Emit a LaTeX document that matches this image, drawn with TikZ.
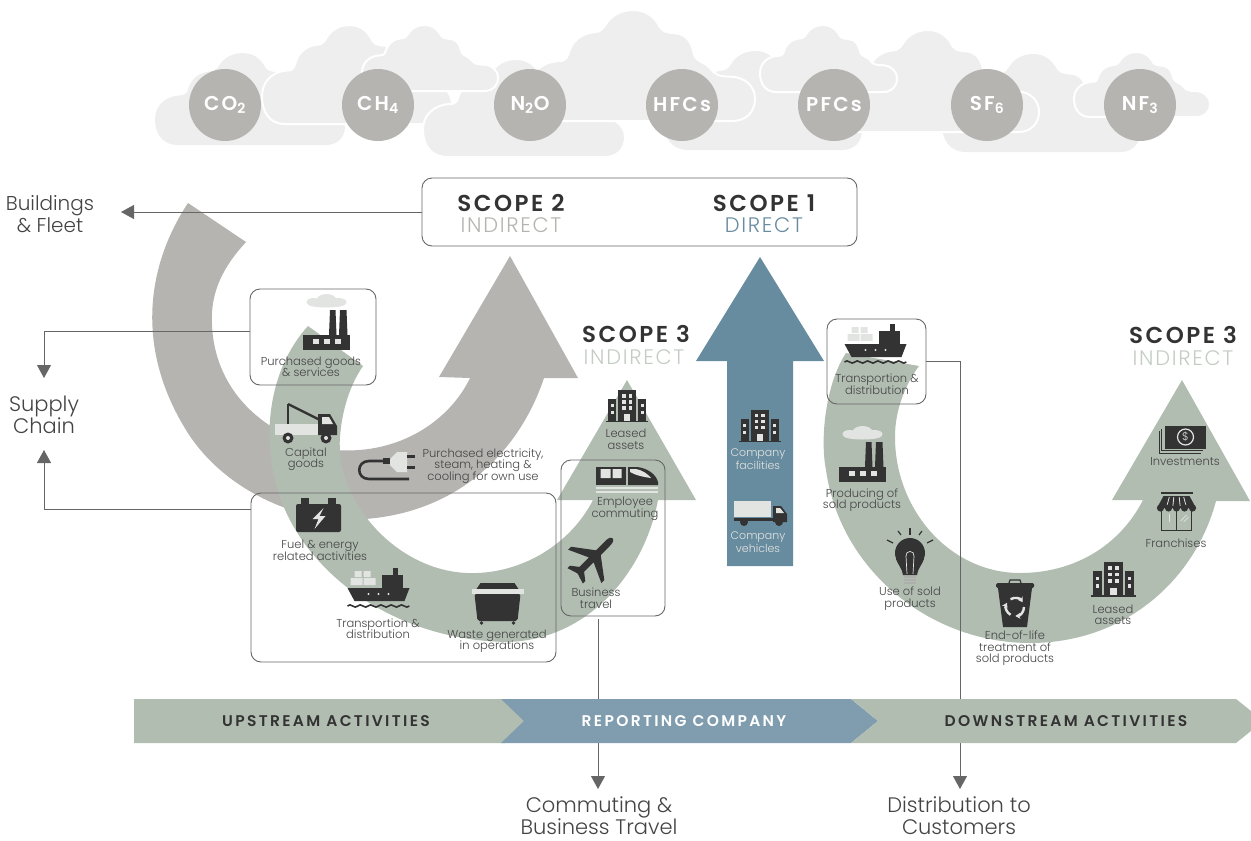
\documentclass[tikz,border=0pt]{standalone}
\usepackage{fontspec}
\usepackage{tikz}
\usetikzlibrary{arrows.meta}
\setmainfont{Poppins}[UprightFont=* Light,BoldFont=* SemiBold]
\newfontfamily\headfont{Poppins SemiBold}[LetterSpace=11]
\newfontfamily\subfont{Poppins Light}[LetterSpace=8]
\newfontfamily\bandfont{Poppins SemiBold}[LetterSpace=15]

\definecolor{cloudgrey}{HTML}{EEEEEE}
\definecolor{scopegrey}{HTML}{B5B4B1}
\definecolor{sagegreen}{HTML}{B2BDB2}
\definecolor{palegreen}{HTML}{C4CCC4}
\definecolor{slateblue}{HTML}{688C9F}
\definecolor{bandblue}{HTML}{7F9DAE}
\definecolor{icondark}{HTML}{333333}
\definecolor{iconlight}{HTML}{E2E4E2}
\definecolor{wirecol}{HTML}{666666}
\definecolor{labelcol}{HTML}{444444}

% keeps the line distance of the labels exact
\newcommand{\tightlines}{\lineskiplimit=-20pt\relax}

\tikzset{
    gascircle/.style={circle, fill=scopegrey, text=white, minimum size=72pt, inner sep=0pt,
        font=\fontsize{20}{20}\selectfont\headfont},
    framebox/.style={draw=wirecol, line width=0.9pt, rounded corners=10pt, inner sep=0pt},
    wire/.style={draw=wirecol, line width=0.9pt},
    wiretip/.style={wire, -{Triangle[length=13pt,width=14pt,fill=wirecol]}},
    smalllabel/.style={align=center, text=labelcol, inner sep=0pt,
        font=\fontsize{11.5}{11.5}\selectfont\tightlines},
    whitelabel/.style={smalllabel, text=iconlight, font=\fontsize{11}{13}\selectfont\tightlines},
    biglabel/.style={align=center, text=labelcol, inner sep=0pt,
        font=\fontsize{21}{22}\selectfont\tightlines},
    scopehead/.style={text=icondark, inner sep=0pt, font=\fontsize{23}{23}\headfont\selectfont},
    scopesub/.style={inner sep=0pt, font=\fontsize{21}{21}\subfont\selectfont},
    bandtext/.style={inner sep=0pt, font=\fontsize{15.5}{16}\bandfont\selectfont},
    cloudplain/.style={fill=cloudgrey},
    cloudline/.style={fill=cloudgrey, draw=white, line width=2pt},
    % the icons, each one drawn round its own middle
    towerblock/.pic={
        \fill[icondark] (-9,-16) rectangle (9,15);
        \fill[icondark] (-19,-7) rectangle (-11,15);
        \fill[icondark] (11,-7) rectangle (19,15);
        \fill[icondark] (-21,15) rectangle (21,16.2);
        \foreach \wx in {-5,1.5} \foreach \wy in {-12,-6,0}
            \fill[iconlight] (\wx,\wy) rectangle ++(3.5,3.5);
        \foreach \wx in {-16.5,13.5} \foreach \wy in {-2,5}
            \fill[iconlight] (\wx,\wy) rectangle ++(3,3);
        \fill[iconlight] (-3,8) rectangle (3,15);
    },
    factory/.pic={
        \fill[iconlight] (-13,-28) ellipse [x radius=7,y radius=4]
            (0,-30) ellipse [x radius=10,y radius=6] (12,-28) ellipse [x radius=8,y radius=4]
            (0,-26) ellipse [x radius=19,y radius=3.5];
        \fill[icondark] (2.5,5) -- (3.5,-20) -- (9,-20) -- (10,5) -- cycle;
        \fill[icondark] (12.5,5) -- (13.5,-20) -- (20,-20) -- (21,5) -- cycle;
        \fill[icondark] (-23.5,5) rectangle (23.5,20);
        \foreach \wx in {-14,-3,8}
            \fill[iconlight] (\wx,9) rectangle ++(6,5);
    },
    towtruck/.pic={
        \fill[iconlight] (-31,1) rectangle (12,12);
        \fill[icondark] (12,-9) -- (24,-9) -- (31,3) -- (31,12) -- (12,12) -- cycle;
        \fill[iconlight] (16,-6) -- (23,-6) -- (27,1) -- (16,1) -- cycle;
        \draw[icondark, line width=2.4pt] (-18,-19) -- (14,-3);
        \draw[icondark, line width=1.2pt] (-18,-19) -- (-18,1);
        \foreach \wx in {-18,20} {
            \fill[icondark] (\wx,15) circle (5.5);
            \fill[iconlight] (\wx,15) circle (2);
        }
    },
    plug/.pic={
        \draw[icondark, line width=2.6pt] (22,14) -- (-18,14)
            .. controls (-31,14) and (-31,-4) .. (-18,-4) -- (-4,-4);
        \fill[icondark] (-4,-7) rectangle (3,-1);
        \fill[iconlight] (3,-6) -- (10,-13) -- (20,-13) -- (20,7) -- (10,7) -- (3,0) -- cycle;
        \fill[icondark] (20,-10) rectangle (28,-7);
        \fill[icondark] (20,1) rectangle (28,4);
    },
    battery/.pic={
        \fill[icondark, rounded corners=2pt] (-22.5,-11) rectangle (22.5,17);
        \fill[icondark] (-18,-17) rectangle (-10,-10);
        \fill[icondark] (9,-17) rectangle (17,-10);
        \fill[iconlight] (5,-7) -- (-6,4) -- (0,4) -- (-4,14) -- (7,1) -- (1,1) -- cycle;
    },
    cargoship/.pic={
        \fill[iconlight] (-28,-12) rectangle (-16,-5) (-15,-12) rectangle (-3,-5)
            (-24,-19) rectangle (-17,-13) (-15,-19) rectangle (-8,-13);
        \fill[icondark] (14,-22) rectangle (19,-14);
        \fill[icondark] (3,-15) rectangle (24,-2);
        \fill[icondark] (-31,-2) -- (31,-2) -- (26,11) -- (-24,11) -- cycle;
        \foreach \wx in {-10,0,10}
            \fill[iconlight] (\wx,4) circle (1.2);
        \draw[icondark, line width=1.6pt] (-31,16) \foreach \wv in {1,...,6} {
            .. controls +(3,-4) and +(-3,4) .. ++(10.3,0) };
    },
    dumpster/.pic={
        \fill[icondark] (-21,-14) -- (-17,-20) -- (17,-20) -- (21,-14) -- cycle;
        \fill[iconlight] (-26,-14) rectangle (26,-9);
        \fill[icondark, rounded corners=2pt] (-23,-9) -- (23,-9) -- (20,18) -- (-20,18) -- cycle;
        \fill[icondark] (-16,20) circle (1.8) (16,20) circle (1.8);
    },
    bullettrain/.pic={
        \fill[icondark] (-31,-13) rectangle (-1,5);
        \fill[icondark] (1,-13) -- (10,-13) .. controls (20,-12) and (29,-6) .. (31,2)
            -- (31,5) -- (1,5) -- cycle;
        \fill[iconlight] (-26.5,-11) rectangle (-16.5,-2) (-14.5,-11) rectangle (-5.5,-2);
        \fill[iconlight] (3,-11) -- (9,-11) .. controls (15,-10) and (21,-6) .. (24,-2)
            .. controls (16,-3) and (8,-5) .. (3,-8) -- cycle;
        \draw[iconlight, line width=1.4pt] (-31,8) -- (31,8) (-31,12) -- (31,12);
    },
    airplane/.pic={
        \fill[icondark, rotate=45, scale=0.84] (33,0) .. controls (33,-3) and (29,-4) .. (24,-4)
            -- (9,-4) -- (-9,-28) -- (-14,-28) -- (-3,-4) -- (-19,-4) -- (-26,-13)
            -- (-30,-13) -- (-26,0) -- (-30,13) -- (-26,13) -- (-19,4) -- (-3,4)
            -- (-14,28) -- (-9,28) -- (9,4) -- (24,4) .. controls (29,4) and (33,3) .. (33,0) -- cycle;
    },
    boxtruck/.pic={
        \fill[iconlight] (-26,-12) rectangle (11,4);
        \fill[icondark] (13,-7) -- (21,-7) -- (27,1) -- (27,9) -- (13,9) -- cycle;
        \fill[icondark] (-26,5) rectangle (14,8);
        \fill[iconlight] (16,-5) -- (20,-5) -- (24,0) -- (16,0) -- cycle;
        \fill[icondark] (-16,9) circle (4) (19,9) circle (4);
    },
    lightbulb/.pic={
        \foreach \ra/\rb/\rc/\rd in {0/-30/0/-23, -12/-27/-9/-23, 12/-27/9/-23, -23/-18/-17/-15, 23/-18/17/-15}
            \draw[icondark, line width=1.2pt] (\ra,\rb) -- (\rc,\rd);
        \fill[icondark] (0,-5) circle (15);
        \fill[icondark] (-14,1) .. controls (-12,7) and (-8,10) .. (-7,17) -- (7,17)
            .. controls (8,10) and (12,7) .. (14,1) -- cycle;
        \draw[iconlight, line width=0.7pt] (-3,16) -- (-4,-2) (3,16) -- (4,-2)
            (-4,-2) .. controls (-5,-8) and (5,-8) .. (4,-2);
        \foreach \ry in {19,22,25}
            \draw[iconlight!70!icondark, line width=1.5pt] (-6,\ry) -- (6,\ry);
    },
    recyclebin/.pic={
        \draw[icondark, line width=1.2pt] (-6,-20) -- (-5,-23) -- (5,-23) -- (6,-20);
        \fill[icondark, rounded corners=1.5pt] (-19,-20) rectangle (19,-15);
        \fill[icondark] (-17,-15) -- (17,-15) -- (12,24) -- (-12,24) -- cycle;
        \foreach \ra in {0,120,240}
            \draw[iconlight, line width=2.4pt, -{Stealth[length=5pt,width=6pt]}]
                (0,4) ++(\ra:9) arc [start angle=\ra, end angle=\ra+88, radius=9];
    },
    banknote/.pic={
        \draw[icondark, line width=0.8pt] (-23.5,-9) -- (-23.5,13) -- (18,13)
            (-21,-11) -- (-21,10.5) -- (20,10.5);
        \fill[icondark] (-17.5,-14) rectangle (23.5,9);
        \draw[iconlight, line width=1.2pt] (3,-3) circle (8);
        \node[text=iconlight, inner sep=0pt, font=\fontsize{11}{11}\selectfont] (dollarsign) at (3,-3) {\$};
    },
    shopfront/.pic={
        \fill[icondark] (-16,-19) rectangle (16,-17);
        \fill[icondark] (-13,-15) -- (13,-15) -- (19.5,-3) -- (-19.5,-3) -- cycle;
        \foreach \sx in {-8,-3,3,8}
            \draw[iconlight, line width=0.8pt] (\sx*0.9,-14) -- (\sx*1.2,-5);
        \foreach \sx in {-16,-8,0,8,16}
            \fill[icondark] (\sx,-3) circle (3.6);
        \draw[icondark, line width=1.5pt] (-15,0) -- (-15,19.5) -- (15,19.5) -- (15,0) (0,0) -- (0,19.5);
        \draw[iconlight, line width=0.7pt] (4,10) -- (10,4) (7,11) -- (12,6);
        \draw[iconlight, line width=1.4pt] (-7,3) -- (-7,11);
    }
}

% one cloud: left, top, width, height, style
\newcommand{\cloudat}[5]{
    \path[#5, shift={(#1,#2)}, x=#3pt, y=-#4pt]
        (0.12,1) .. controls (0.04,1) and (0,0.88) .. (0,0.72)
        .. controls (0,0.58) and (0.05,0.47) .. (0.13,0.46)
        .. controls (0.17,0.46) and (0.17,0.42) .. (0.18,0.36)
        .. controls (0.2,0.26) and (0.24,0.21) .. (0.29,0.2)
        .. controls (0.32,0.2) and (0.33,0.16) .. (0.35,0.1)
        .. controls (0.38,0.03) and (0.42,0) .. (0.46,0)
        .. controls (0.5,0) and (0.54,0.03) .. (0.57,0.12)
        .. controls (0.59,0.2) and (0.6,0.2) .. (0.65,0.21)
        .. controls (0.7,0.22) and (0.72,0.3) .. (0.73,0.4)
        .. controls (0.74,0.47) and (0.78,0.47) .. (0.8,0.52)
        .. controls (0.82,0.58) and (0.84,0.6) .. (0.89,0.6)
        .. controls (0.95,0.6) and (1,0.68) .. (1,0.8)
        .. controls (1,0.92) and (0.96,1) .. (0.9,1) -- cycle;
}

\begin{document}
\begin{tikzpicture}[x=1pt, y=-1pt]
    \useasboundingbox (0,0) rectangle (1251,841);

    % Clouds at the back
    \cloudat{155}{53}{190}{92}{cloudplain}
    \cloudat{262}{25}{190}{99}{cloudline}
    \cloudat{423}{59}{202}{98}{cloudline}
    \cloudat{362}{25}{136}{66}{cloudline}
    \cloudat{664}{51}{198}{99}{cloudplain}
    \cloudat{529}{10}{226}{111}{cloudline}
    \cloudat{942}{54}{198}{98}{cloudplain}
    \cloudat{833}{30}{206}{102}{cloudline}
    \cloudat{760}{25}{137}{67}{cloudline}
    \cloudat{1074}{52}{136}{65}{cloudline}

    % The seven gases
    \foreach \gx/\gname/\gtext in {225/co2/{CO\textsubscript{2}}, 378/ch4/{CH\textsubscript{4}},
        530/n2o/{N\textsubscript{2}O}, 682/hfcs/HFCs, 834/pfcs/PFCs,
        987/sf6/{SF\textsubscript{6}}, 1140/nf3/{NF\textsubscript{3}}} {
        \node[gascircle] (\gname) at (\gx,105) {\gtext};
    }

    % Scope 2 arrow
    \fill[scopegrey] (188,203) .. controls (147,265) and (136,345) .. (183,425)
        .. controls (220,490) and (300,525) .. (365,519)
        .. controls (460,512) and (520,450) .. (544,378)
        -- (578,378) -- (510,256) -- (439,377) -- (470,378)
        .. controls (450,420) and (400,455) .. (335,450)
        .. controls (270,440) and (215,395) .. (212,325)
        .. controls (210,290) and (225,265) .. (246,242) -- cycle;

    % Scope 3 arrow, upstream
    \fill[sagegreen] (308,326) .. controls (268,370) and (260,440) .. (280,497)
        .. controls (305,570) and (390,640) .. (507,642)
        .. controls (590,640) and (645,570) .. (658,500)
        -- (696,500) -- (627,380) -- (557,500) -- (593,500)
        .. controls (570,545) and (520,575) .. (467,573)
        .. controls (395,570) and (335,500) .. (340,437)
        .. controls (342,410) and (350,385) .. (363,366) -- cycle;

    % Scope 1 arrow
    \fill[slateblue] (727,566) -- (727,361) -- (696,361) -- (760,257) -- (824,361)
        -- (793,361) -- (793,566) -- cycle;

    % Scope 3 arrow, downstream
    \fill[sagegreen] (846,353) .. controls (825,385) and (820,440) .. (826,470)
        .. controls (840,570) and (930,643) .. (1030,643)
        .. controls (1125,643) and (1195,580) .. (1216,501)
        -- (1250,501) -- (1182,380) -- (1112,500) -- (1143,500)
        .. controls (1120,545) and (1075,573) .. (1020,573)
        .. controls (950,573) and (895,510) .. (895,437)
        .. controls (895,410) and (905,385) .. (919,366) -- cycle;

    % Icons
    \pic (leasedup) at (627,406) {towerblock};
    \pic (facilities) at (759.5,425.5) {towerblock};
    \pic[scale=1.08] (leaseddown) at (1113.5,579) {towerblock};
    \pic (goodsfactory) at (326.5,330) {factory};
    \pic (soldfactory) at (862.5,462) {factory};
    \pic (capital) at (306,423) {towtruck};
    \pic (power) at (387,465) {plug};
    \pic (fuel) at (318.5,515) {battery};
    \pic (shipup) at (378.5,590) {cargoship};
    \pic (shipdown) at (875.5,346) {cargoship};
    \pic (waste) at (497.5,603) {dumpster};
    \pic (train) at (627,480) {bullettrain};
    \pic (plane) at (593,558) {airplane};
    \pic (vehicle) at (760,513) {boxtruck};
    \pic (bulb) at (910,558) {lightbulb};
    \pic (trash) at (1015,603) {recyclebin};
    \pic (money) at (1182.5,440) {banknote};
    \pic (store) at (1176.5,511) {shopfront};

    % Labels on the arrows
    \node[smalllabel] (goodslabel) at (311,367) {Purchased goods\\\& services};
    \node[smalllabel] (capitallabel) at (306,459) {Capital\\goods};
    \node[smalllabel] (powerlabel) at (483,466) {Purchased electricity,\\steam, heating \&\\cooling for own use};
    \node[smalllabel] (fuellabel) at (320,550.5) {Fuel \& energy\\related activities};
    \node[smalllabel] (shipuplabel) at (378,628.5) {Transportion \&\\distribution};
    \node[smalllabel] (wastelabel) at (497,641) {Waste generated\\in operations};
    \node[smalllabel] (travellabel) at (596,598) {Business\\travel};
    \node[smalllabel] (commutelabel) at (625,509) {Employee\\commuting};
    \node[smalllabel] (leaseduplabel) at (626,439.5) {Leased\\assets};
    \node[whitelabel] (facilitylabel) at (758,459.5) {Company\\facilities};
    \node[whitelabel] (vehiclelabel) at (758,542.5) {Company\\vehicles};
    \node[smalllabel] (shipdownlabel) at (877,384) {Transportion \&\\distribution};
    \node[smalllabel] (producelabel) at (862,500) {Producing of\\sold products};
    \node[smalllabel] (uselabel) at (910,598.5) {Use of sold\\products};
    \node[smalllabel] (endlabel) at (1015,648.5) {End-of-life\\treatment of\\sold products};
    \node[smalllabel] (leaseddownlabel) at (1113,615) {Leased\\assets};
    \node[smalllabel] (franchiselabel) at (1176,543) {Franchises};
    \node[smalllabel] (investlabel) at (1185,462) {Investments};

    % Scope headings
    \node[framebox, minimum width=435pt, minimum height=68pt] (scopebox) at (639.5,212) {};
    \node[scopehead] (scopetwo) at (511,203) {SCOPE 2};
    \node[scopesub, text=scopegrey] (indirecttwo) at (511,225) {INDIRECT};
    \node[scopehead] (scopeone) at (764,203) {SCOPE 1};
    \node[scopesub, text=slateblue] (directone) at (764,225) {DIRECT};
    \node[scopehead] (scopethreeup) at (636,334) {SCOPE 3};
    \node[scopesub, text=palegreen] (indirectup) at (634,357) {INDIRECT};
    \node[scopehead] (scopethreedown) at (1183,335) {SCOPE 3};
    \node[scopesub, text=palegreen] (indirectdown) at (1183,358) {INDIRECT};

    % Frames round the groups
    \node[framebox, minimum width=126pt, minimum height=96pt] (goodsbox) at (313,337) {};
    \node[framebox, minimum width=305pt, minimum height=169pt] (upstreambox) at (403.5,577.5) {};
    \node[framebox, minimum width=104pt, minimum height=156pt] (travelbox) at (613,538) {};
    \node[framebox, minimum width=99pt, minimum height=85pt] (shipbox) at (876.5,361.5) {};

    % Side and bottom labels
    \node[biglabel, font=\fontsize{20}{22}\selectfont\tightlines] (fleetlabel) at (50,214) {Buildings\\\& Fleet};
    \node[biglabel] (supplylabel) at (44,415) {Supply\\Chain};
    \node[biglabel] (commutinglabel) at (599,816) {Commuting \&\\Business Travel};
    \node[biglabel] (customerlabel) at (959,816) {Distribution to\\Customers};

    % Connectors
    \coordinate (fleettip) at (121,212);
    \coordinate (supplytop) at (44,378);
    \coordinate (supplybottom) at (44,450);
    \coordinate (commutetip) at (598,789);
    \coordinate (customertip) at (960,789);
    \draw[wiretip] (scopebox.west) -- (fleettip);
    \draw[wiretip] ([yshift=6pt]goodsbox.west) -| (supplytop);
    \draw[wiretip] ([yshift=68.5pt]upstreambox.west) -| (supplybottom);
    \draw[wiretip] ([xshift=-15pt,yshift=-3pt]travelbox.south) -- (commutetip);
    \draw[wiretip] (shipbox.east) -| (customertip);

    % Bottom band, over the two long connectors
    \fill[sagegreen] (134,699) -- (505,699) -- (527,721) -- (505,743) -- (134,743) -- cycle;
    \fill[bandblue] (501,699) -- (851,699) -- (878,721) -- (851,743) -- (501,743) -- (524,721) -- cycle;
    \fill[sagegreen] (851,699) -- (1236,699) -- (1251,711) -- (1251,731) -- (1236,743)
        -- (851,743) -- (878,721) -- cycle;
    \node[bandtext, text=icondark] (upstream) at (326,721) {UPSTREAM ACTIVITIES};
    \node[bandtext, text=white] (reporting) at (684,721) {REPORTING COMPANY};
    \node[bandtext, text=icondark] (downstream) at (1066,721) {DOWNSTREAM ACTIVITIES};
\end{tikzpicture}
\end{document}
